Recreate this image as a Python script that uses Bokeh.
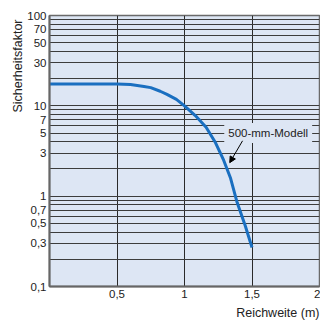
from bokeh.plotting import figure
from bokeh.models import (Range1d, FixedTicker, CustomJSTickFormatter, Label, Arrow,
                          NormalHead, Title)
from bokeh.embed import file_html
from bokeh.resources import INLINE

# Data
reach_m = [0, 0.5, 0.6, 0.7, 0.75, 0.82, 0.87, 0.94, 1.0, 1.08, 1.16, 1.23, 1.29, 1.34, 1.39, 1.45, 1.5]
safety = [17.5, 17.5, 17.2, 16.4, 15.9, 14.5, 13.4, 11.8, 10.0, 7.8, 5.8, 3.9, 2.5, 1.6, 0.85, 0.47, 0.27]

y_tick_values = [0.1, 0.3, 0.5, 0.7, 1, 3, 5, 7, 10, 30, 50, 70, 100]
x_tick_values = [0.5, 1, 1.5, 2]
y_grid_values = [0.1, 0.2, 0.3, 0.4, 0.5, 0.6, 0.7, 0.8, 0.9,
                 1, 2, 3, 4, 5, 6, 7, 8, 9,
                 10, 20, 30, 40, 50, 60, 70, 80, 90, 100]
x_grid_values = [0.5, 1, 1.5]

series_label = "500-mm-Modell"
label_pos = (1.62, 5)
arrow_from = (1.43, 4.1)
arrow_to = (1.335, 2.35)
x_title = "Reichweite (m)"
y_title = "Sicherheitsfaktor"

BG = "#dde6f4"
FONT = "Liberation Sans"
TXT = "#222222"

p = figure(width=320, height=323, y_axis_type="log",
           x_range=Range1d(0, 2), y_range=Range1d(0.1, 100),
           output_backend="svg", toolbar_location=None,
           min_border_left=49, min_border_right=1, min_border_top=15, min_border_bottom=36)

p.background_fill_color = BG
p.border_fill_color = "white"
p.outline_line_color = "#6a6a6a"
p.outline_line_width = 1.5

fmt = CustomJSTickFormatter(code="return String(tick).replace('.', ',');")

p.yaxis.ticker = FixedTicker(ticks=y_tick_values, minor_ticks=[])
p.xaxis.ticker = FixedTicker(ticks=x_tick_values, minor_ticks=[])
for ax in (p.xaxis, p.yaxis):
    ax.formatter = fmt
    ax.axis_line_color = "#666666"
    ax.axis_line_width = 2
    ax.major_tick_line_color = None
    ax.minor_tick_line_color = None
    ax.major_tick_out = 0
    ax.major_tick_in = 0
    ax.major_label_text_font = FONT
    ax.major_label_text_font_size = "11.5px"
    ax.major_label_text_color = TXT
    ax.major_label_standoff = 3

p.ygrid.ticker = FixedTicker(ticks=y_grid_values, minor_ticks=[])
p.xgrid.ticker = FixedTicker(ticks=x_grid_values, minor_ticks=[])
p.ygrid.grid_line_color = "#3c3c3c"
p.xgrid.grid_line_color = "#2a2a2a"
p.ygrid.grid_line_width = 1
p.xgrid.grid_line_width = 1

p.line(reach_m, safety, line_color="#1a6fc0", line_width=3)

p.add_layout(Label(x=label_pos[0], y=label_pos[1], text=series_label,
                   text_align="center", text_baseline="middle",
                   text_font=FONT, text_font_size="11.5px", text_color=TXT,
                   background_fill_color=BG, padding=4))
p.add_layout(Arrow(end=NormalHead(size=6, fill_color="black", line_color="black"),
                   x_start=arrow_from[0], y_start=arrow_from[1],
                   x_end=arrow_to[0], y_end=arrow_to[1],
                   line_color="black", line_width=1))

p.add_layout(Title(text=y_title, align="right", text_font=FONT,
                   text_font_size="12.5px", text_font_style="normal",
                   text_color=TXT, standoff=0, offset=4), "left")
p.add_layout(Title(text=x_title, align="right", text_font=FONT,
                   text_font_size="12.5px", text_font_style="normal",
                   text_color=TXT, standoff=7), "below")

open("out.html", "w").write(file_html(p, INLINE))
